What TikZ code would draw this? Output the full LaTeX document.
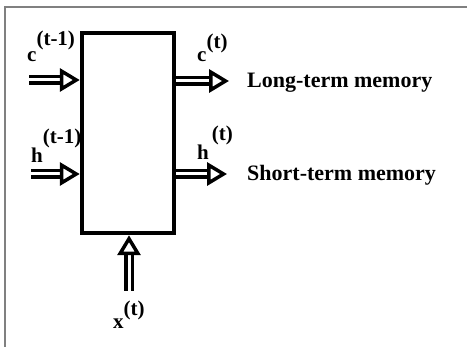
\documentclass[tikz,border=0pt]{standalone}
\usepackage{fontspec}
\setmainfont{Liberation Serif}
\usetikzlibrary{arrows.meta,positioning,calc}
\definecolor{LstmInk}{RGB}{0,0,0}
\definecolor{LstmFrame}{RGB}{128,128,128}
\tikzset{
  lstm/cell/.style={
    draw=LstmInk,
    line width=4.5pt,
    fill=white,
    inner sep=0pt,
    minimum width=92pt,
    minimum height=200pt
  },
  lstm/arrow/.style={
    draw=LstmInk,
    line width=3.5pt,
    double=white,
    double distance=3pt,
    -{Triangle[length=20pt,width=23pt,fill=white,line width=3.5pt]}
  },
  lstm/label/.style={font=\fontsize{21}{25}\selectfont\bfseries, text=LstmInk, inner sep=0pt},
  lstm/text/.style={font=\fontsize{22}{26}\selectfont\bfseries, text=LstmInk, inner sep=0pt}
}

\begin{document}
\begin{tikzpicture}[x=1pt,y=-1pt]
  \useasboundingbox (0,0) rectangle (467,347);
  % frame on two sides only
  \draw[draw=LstmFrame,line width=1.6pt] (5,347) -- (5,7) -- (467,7);

  \node[lstm/cell] (cell) at (128,133) {};

  % inputs
  \coordinate (cin) at (29,80);
  \coordinate (hin) at (31,174);
  \coordinate (xin) at (129,291);
  \draw[lstm/arrow] (cin) -- (cell.west |- cin);
  \draw[lstm/arrow] (hin) -- (cell.west |- hin);
  \draw[lstm/arrow] (xin) -- (cell.south -| xin);

  % outputs
  \coordinate (cout) at (229,81);
  \coordinate (hout) at (227,174);
  \draw[lstm/arrow] (cell.east |- cout) -- (cout);
  \draw[lstm/arrow] (cell.east |- hout) -- (hout);

  % labels
  \node[lstm/label,anchor=base west] (cprev) at (27,62) {c\raisebox{16pt}{(t-1)}};
  \node[lstm/label,anchor=base west] (hprev) at (31,163) {h\raisebox{19pt}{(t-1)}};
  \node[lstm/label,anchor=base west] (cnext) at (197,62) {c\raisebox{13pt}{(t)}};
  \node[lstm/label,anchor=base west] (hnext) at (197,160) {h\kern3pt\raisebox{19pt}{(t)}};
  \node[lstm/label,anchor=base west] (xnow) at (113,329) {x\raisebox{13pt}{(t)}};

  \node[lstm/text,anchor=base west] (ltm) at (247,88) {Long-term memory};
  \node[lstm/text,anchor=base west] (stm) at (247,181) {Short-term memory};
\end{tikzpicture}
\end{document}
